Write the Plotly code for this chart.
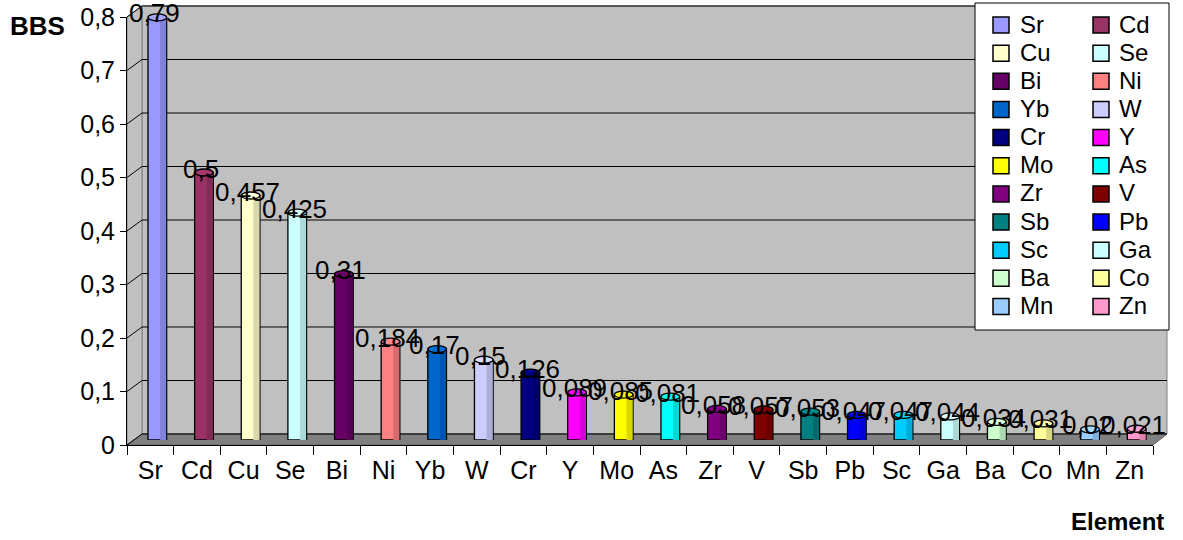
import plotly.graph_objects as go

# BBS values per element
elements = ["Sr", "Cd", "Cu", "Se", "Bi", "Ni", "Yb", "W", "Cr", "Y", "Mo",
            "As", "Zr", "V", "Sb", "Pb", "Sc", "Ga", "Ba", "Co", "Mn", "Zn"]
bbs = [0.79, 0.5, 0.457, 0.425, 0.31, 0.184, 0.17, 0.15, 0.126, 0.089, 0.085,
       0.081, 0.058, 0.057, 0.053, 0.047, 0.047, 0.044, 0.034, 0.031, 0.02, 0.021]
colors = ["#9999FF", "#993366", "#FFFFCC", "#CCFFFF", "#660066", "#FF8080",
          "#0066CC", "#CCCCFF", "#000080", "#FF00FF", "#FFFF00", "#00FFFF",
          "#800080", "#800000", "#008080", "#0000FF", "#00CCFF", "#CCFFFF",
          "#CCFFCC", "#FFFF99", "#99CCFF", "#FF99CC"]
y_ticks = [0, 0.1, 0.2, 0.3, 0.4, 0.5, 0.6, 0.7, 0.8]
y_tick_text = ["0", "0,1", "0,2", "0,3", "0,4", "0,5", "0,6", "0,7", "0,8"]

FONT = "Liberation Sans, Arial, sans-serif"
W, H = 1183, 540
# plot area in pixels
L, R, T, B = 127, 1160, 12, 445
PW, PH = R - L, B - T
AX_W = 1026            # visible axis length (px)
AX_H = 428             # visible axis height (px)
DX, DY = 7, 5          # depth offset of the columns
WALL_DX, WALL_DY = 15, 11   # depth of the back wall
Y_MAX = 0.8
BAR_W = 0.4


def fx(px):
    return (px - L) / PW


def fy(py):
    return (B - py) / PH


def ypx(v):
    return B - v / Y_MAX * AX_H


def shade(hex_color, k):
    r, g, b = (int(hex_color[i:i + 2], 16) for i in (1, 3, 5))
    return "#%02X%02X%02X" % tuple(int(min(255, c * k)) for c in (r, g, b))


fig = go.Figure()

# hidden trace so the visible category axis gets its categories
fig.add_trace(go.Scatter(x=elements, y=bbs, mode="markers",
                         marker=dict(opacity=0), showlegend=False,
                         hoverinfo="skip", xaxis="x", yaxis="y"))

annotations = []
for i, (el, v, c) in enumerate(zip(elements, bbs, colors)):
    fig.add_trace(go.Bar(
        x=[el], y=[v], name=el, xaxis="x2", yaxis="y2",
        marker=dict(color=c, line=dict(color="black", width=1.3)),
        width=BAR_W, cliponaxis=False, showlegend=False,
    ))
    # value label sitting over the top of the column
    annotations.append(dict(text=f"{v}".replace(".", ","), xref="x2", yref="y2",
                            x=el, y=v, xanchor="center", yanchor="middle",
                            xshift=-3, yshift=4, showarrow=False,
                            font=dict(family=FONT, size=26, color="black")))

shapes = []
x_left, x_back, x_right_front, x_right_back = L, L + WALL_DX, L + AX_W, L + AX_W + WALL_DX - 1
top_back = ypx(Y_MAX) - WALL_DY
floor_back = B - WALL_DY


def path(points):
    return "M " + " L ".join(f"{fx(px):.5f},{fy(py):.5f}" for px, py in points) + " Z"


def openpath(points):
    return "M " + " L ".join(f"{fx(px):.5f},{fy(py):.5f}" for px, py in points)


# back wall
shapes.append(dict(type="path", xref="paper", yref="paper", layer="below",
                   path=path([(x_back, top_back), (x_right_back, top_back),
                              (x_right_back, floor_back), (x_back, floor_back)]),
                   fillcolor="#C0C0C0", line=dict(color="#808080", width=1)))
# side wall
shapes.append(dict(type="path", xref="paper", yref="paper", layer="below",
                   path=path([(x_left, ypx(Y_MAX)), (x_back, top_back),
                              (x_back, floor_back), (x_left, B)]),
                   fillcolor="#C0C0C0", line=dict(color="#808080", width=1)))
# floor
shapes.append(dict(type="path", xref="paper", yref="paper", layer="below",
                   path=path([(x_left, B), (x_back, floor_back),
                              (x_right_back, floor_back), (x_right_front, B)]),
                   fillcolor="#808080", line=dict(color="#606060", width=1)))
# gridlines on side and back wall
for v in y_ticks:
    yv = ypx(v)
    shapes.append(dict(type="path", xref="paper", yref="paper", layer="below",
                       path=openpath([(x_left, yv), (x_back, yv - WALL_DY),
                                      (x_right_back, yv - WALL_DY)]),
                       line=dict(color="black", width=1)))

# darker right side and elliptical top of each column (cylinder look)
for i, (v, c) in enumerate(zip(bbs, colors)):
    shapes.append(dict(type="rect", xref="x2", yref="y2", layer="above",
                       x0=i + BAR_W * 0.15, x1=i + BAR_W / 2 - 0.01, y0=0, y1=v,
                       fillcolor=shade(c, 0.85), line=dict(width=0)))
    shapes.append(dict(type="circle", xref="x2", yref="y2", layer="above",
                       x0=i - BAR_W / 2, x1=i + BAR_W / 2,
                       ysizemode="pixel", yanchor=v, y0=-3.5, y1=3.5,
                       fillcolor=shade(c, 1.08), line=dict(color="black", width=1.3)))

# legend frame and entries (two columns)
LEG_X0, LEG_X1, LEG_Y0, LEG_Y1 = 975, 1169, 3, 330
shapes.append(dict(type="rect", xref="paper", yref="paper", layer="above",
                   x0=fx(LEG_X0), x1=fx(LEG_X1), y0=fy(LEG_Y1), y1=fy(LEG_Y0),
                   fillcolor="white", line=dict(color="black", width=1)))
ROW0, ROW_STEP, SQ = 25, 28.15, 16
COL_SQ = [993, 1093]
COL_TXT = [1018, 1117]
for i, (el, c) in enumerate(zip(elements, colors)):
    col, row = i % 2, i // 2
    cy = ROW0 + row * ROW_STEP
    sx = COL_SQ[col]
    shapes.append(dict(type="rect", xref="paper", yref="paper", layer="above",
                       x0=fx(sx), x1=fx(sx + SQ), y0=fy(cy + SQ / 2), y1=fy(cy - SQ / 2),
                       fillcolor=c, line=dict(color="black", width=1.5)))
    annotations.append(dict(text=el, xref="paper", yref="paper",
                            x=fx(COL_TXT[col]), y=fy(cy - 1), xanchor="left",
                            yanchor="middle", showarrow=False,
                            font=dict(family=FONT, size=24, color="black")))

annotations += [
    dict(text="<b>BBS</b>", xref="paper", yref="paper", x=fx(8), y=fy(26),
         xanchor="left", yanchor="middle", showarrow=False,
         font=dict(family=FONT, size=26, color="black")),
    dict(text="<b>Element</b>", xref="paper", yref="paper", x=fx(1166), y=fy(521),
         xanchor="right", yanchor="middle", showarrow=False,
         font=dict(family=FONT, size=24, color="black")),
]

fig.update_layout(
    width=W, height=H,
    margin=dict(l=L, r=W - R, t=T, b=H - B, autoexpand=False),
    paper_bgcolor="white", plot_bgcolor="rgba(0,0,0,0)",
    font=dict(family=FONT, size=24, color="black"),
    barmode="overlay",
    showlegend=False,
    xaxis=dict(domain=[0, AX_W / PW], type="category",
               categoryorder="array", categoryarray=elements,
               range=[-0.5, len(elements) - 0.5],
               showline=True, linecolor="black", linewidth=1,
               ticks="outside", tickson="boundaries", ticklen=9,
               tickcolor="black", showgrid=False, zeroline=False,
               ticklabelstandoff=3,
               tickfont=dict(family=FONT, size=25), anchor="y",
               fixedrange=True, automargin=False),
    yaxis=dict(domain=[0, AX_H / PH], range=[0, Y_MAX],
               tickvals=y_ticks, ticktext=y_tick_text,
               showline=True, linecolor="black", linewidth=1,
               ticks="outside", ticklen=6, tickcolor="black",
               showgrid=False, zeroline=False,
               tickfont=dict(family=FONT, size=25), anchor="x",
               fixedrange=True, automargin=False),
    xaxis2=dict(domain=[DX / PW, (DX + AX_W) / PW], type="category",
                categoryorder="array", categoryarray=elements,
                range=[-0.5, len(elements) - 0.5], visible=False,
                anchor="y2", fixedrange=True, automargin=False),
    yaxis2=dict(domain=[DY / PH, (DY + AX_H) / PH], range=[0, Y_MAX],
                visible=False, anchor="x2", fixedrange=True, automargin=False),
    shapes=shapes,
    annotations=annotations,
)

fig.write_html("out.html")
